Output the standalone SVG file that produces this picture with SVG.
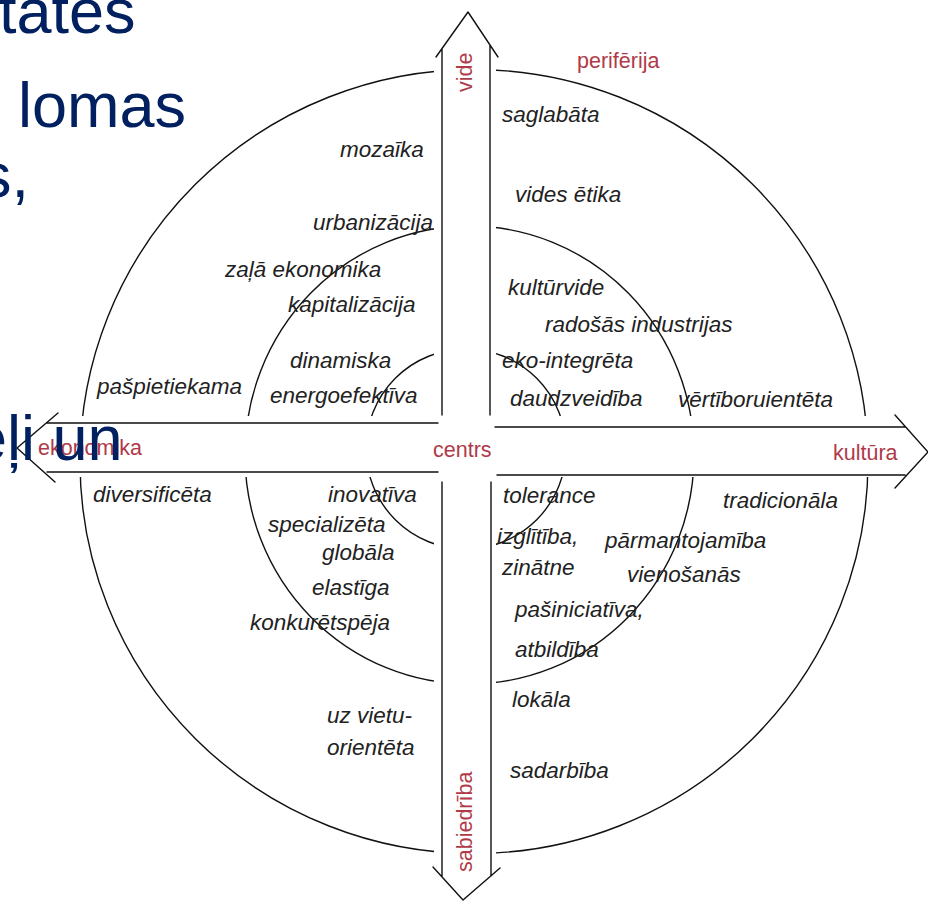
<svg xmlns="http://www.w3.org/2000/svg" width="928" height="901" viewBox="0 0 928 901">
<style>
.ln{fill:none;stroke:#111;stroke-width:1.4;stroke-linecap:round;stroke-linejoin:round}
.t{font-family:"Liberation Sans",Arial,sans-serif;font-style:italic;font-size:22.5px;fill:#222}
.lab{font-family:"Liberation Sans",Arial,sans-serif;font-size:21.5px;fill:#b03a48}
.big{font-family:"Liberation Sans",Arial,sans-serif;font-size:63px;fill:#002060}
</style>
<defs>
<mask id="gap">
<rect width="928" height="901" fill="#fff"/>
<rect x="434" y="0" width="62" height="901" fill="#000"/>
<rect x="0" y="416" width="928" height="61" fill="#000"/>
</mask>
</defs>
<rect width="928" height="901" fill="#fff"/>
<g id="rings" mask="url(#gap)">
<ellipse class="ln" cx="474" cy="461.5" rx="394" ry="392"/>
<ellipse class="ln" cx="469.5" cy="455" rx="224.5" ry="229"/>
<circle class="ln" cx="466" cy="449" r="100"/>
</g>
<g id="connectors">
<g id="axis-vide">
<path class="ln" d="M442,48.6 V415 M490,45 V415 M436,57 L468,12 L498,57"/>
</g>
<g id="axis-sabiedriba">
<path class="ln" d="M442,482 V877 M491,482 V876 M433,867 L463,900 L500,868"/>
</g>
<g id="axis-ekonomika">
<path class="ln" d="M47,423 H438 M47,472 H438 M58,413 L17,448 L55,482"/>
</g>
<g id="axis-kultura">
<path class="ln" d="M495,427 H905 M497,475 H905 M895,415 L928,452 L895,488"/>
</g>
</g>
<g id="labels">
<text id="vide" class="lab" transform="translate(472,92) rotate(-90)">vide</text>
<text id="sabiedriba" class="lab" transform="translate(472,872) rotate(-90)">sabiedrība</text>
<text id="periferija" class="lab" x="577" y="68">perifērija</text>
<text id="ekonomika" class="lab" x="38" y="455">ekonomika</text>
<text id="kultura" class="lab" x="833" y="460">kultūra</text>
<text id="centrs" class="lab" x="433" y="457">centrs</text>
</g>
<g id="q-upper-left">
<text class="t" x="340" y="157">mozaīka</text>
<text class="t" x="313" y="230">urbanizācija</text>
<text class="t" x="225" y="277">zaļā ekonomika</text>
<text class="t" x="288" y="312">kapitalizācija</text>
<text class="t" x="290" y="368">dinamiska</text>
<text class="t" x="270" y="403">energoefektīva</text>
<text class="t" x="97" y="394">pašpietiekama</text>
</g>
<g id="q-upper-right">
<text class="t" x="502" y="122">saglabāta</text>
<text class="t" x="515" y="202">vides ētika</text>
<text class="t" x="508" y="295">kultūrvide</text>
<text class="t" x="545" y="332">radošās industrijas</text>
<text class="t" x="502" y="368">eko-integrēta</text>
<text class="t" x="510" y="406">daudzveidība</text>
<text class="t" x="678" y="407">vērtīboruientēta</text>
</g>
<g id="q-lower-left">
<text class="t" x="93" y="502">diversificēta</text>
<text class="t" x="328" y="502">inovatīva</text>
<text class="t" x="268" y="532">specializēta</text>
<text class="t" x="322" y="560">globāla</text>
<text class="t" x="312" y="595">elastīga</text>
<text class="t" x="250" y="630">konkurētspēja</text>
<text class="t" x="327" y="723">uz vietu-</text>
<text class="t" x="327" y="755">orientēta</text>
</g>
<g id="q-lower-right">
<text class="t" x="503" y="503">tolerance</text>
<text class="t" x="723" y="508">tradicionāla</text>
<text class="t" x="497" y="544">izglītība,</text>
<text class="t" x="605" y="548">pārmantojamība</text>
<text class="t" x="502" y="575">zinātne</text>
<text class="t" x="627" y="582">vienošanās</text>
<text class="t" x="515" y="617">pašiniciatīva,</text>
<text class="t" x="515" y="657">atbildība</text>
<text class="t" x="512" y="707">lokāla</text>
<text class="t" x="510" y="778">sadarbība</text>
</g>
<g id="slide-text">
<text class="big" x="-1" y="33">tates</text>
<text class="big" x="18" y="127">lomas</text>
<text class="big" x="-20" y="197">s,</text>
<text class="big" x="-28" y="460">eļi un</text>
</g>
</svg>
